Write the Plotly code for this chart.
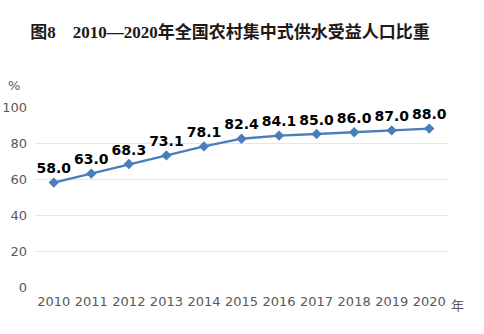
import plotly.graph_objects as go

years = ["2010", "2011", "2012", "2013", "2014", "2015", "2016", "2017", "2018", "2019", "2020"]
share = [58.0, 63.0, 68.3, 73.1, 78.1, 82.4, 84.1, 85.0, 86.0, 87.0, 88.0]
y_ticks = [0, 20, 40, 60, 80, 100]

fig = go.Figure()
fig.add_trace(go.Scatter(
    x=years, y=share,
    mode="lines+markers+text",
    line=dict(color="#4A7EBB", width=2.4),
    marker=dict(symbol="diamond", size=8, color="#4A7EBB"),
    text=[f"<b>{v:.1f}</b>" for v in share],
    textposition="top center",
    textfont=dict(family="DejaVu Sans", size=14, color="#000000"),
    cliponaxis=False,
    hoverinfo="skip",
))

fig.update_layout(
    width=484, height=334,
    margin=dict(l=35, r=36, t=107, b=47),
    paper_bgcolor="white", plot_bgcolor="white",
    showlegend=False,
    title=dict(
        text="<b>图8\u30002010—2020年全国农村集中式供水受益人口比重</b>",
        font=dict(family="Liberation Serif, Noto Sans CJK SC", size=17, color="#231815"),
        x=0.475, xanchor="center", y=0.905, yanchor="middle",
    ),
    xaxis=dict(
        type="category", range=[-0.5, 10.5], automargin=False,
        showgrid=False, showline=False, zeroline=False, ticks="",
        ticklabelstandoff=5,
        tickfont=dict(family="DejaVu Sans", size=13, color="#595959"),
    ),
    yaxis=dict(
        range=[0, 100], tickvals=y_ticks, automargin=False,
        showgrid=True, gridcolor="#E6E6E6", gridwidth=1,
        zeroline=False, showline=False, ticks="",
        ticklabelstandoff=7,
        tickfont=dict(family="DejaVu Sans", size=13, color="#595959"),
    ),
)

fig.add_annotation(text="%", xref="paper", yref="paper", x=-0.05, y=1.0, yshift=22,
                   showarrow=False, xanchor="center", yanchor="middle",
                   font=dict(family="DejaVu Sans", size=13, color="#595959"))
fig.add_annotation(text="年", xref="paper", yref="paper", x=1.0, y=0, yshift=-17, xshift=1,
                   showarrow=False, xanchor="left", yanchor="middle",
                   font=dict(family="Noto Sans CJK SC", size=13, color="#595959"))

fig.write_html("out.html")
